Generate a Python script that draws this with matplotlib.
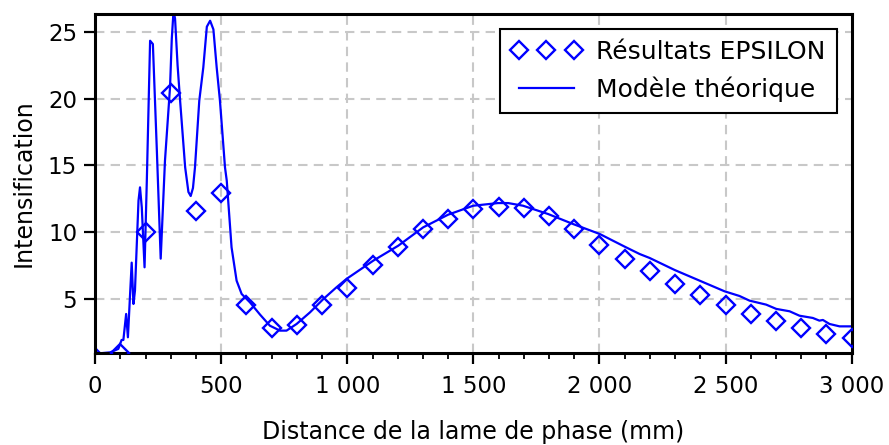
import numpy as np
import matplotlib
matplotlib.use('Agg')
import matplotlib.pyplot as plt
from matplotlib.ticker import MultipleLocator, FuncFormatter

# points EPSILON (tous les 100 mm)
x_exp = [100, 200, 300, 400, 500, 600, 700, 800, 900, 1000,
         1100, 1200, 1300, 1400, 1500, 1600, 1700, 1800, 1900, 2000,
         2100, 2200, 2300, 2400, 2500, 2600, 2700, 2800, 2900, 3000]
y_exp = [0.95, 10.0, 20.45, 11.6, 12.95, 4.55, 2.8, 3.05, 4.55, 5.8,
         7.5, 8.9, 10.25, 10.95, 11.7, 11.9, 11.8, 11.2, 10.2, 9.05,
         8.0, 7.05, 6.1, 5.25, 4.55, 3.85, 3.3, 2.8, 2.35, 2.05]

# modele theorique
x_th = [0, 20, 60, 92, 105, 112, 123, 130, 145, 152, 158, 172, 178, 185, 196,
        205, 218, 229, 245, 260, 277, 297, 304, 311, 317, 327, 337, 357, 370,
        379, 388, 396, 413, 429, 443, 456, 469, 482, 495, 515, 522, 541, 561,
        581, 614, 654, 693, 733, 759, 799, 852, 905, 957, 997, 1103, 1202,
        1301, 1400, 1499, 1598, 1638, 1697, 1796, 1895, 2001, 2053, 2100,
        2159, 2199, 2298, 2397, 2496, 2555, 2595, 2661, 2701, 2754, 2793,
        2846, 2872, 2886, 2912, 2952, 3000]
y_th = [1.3, 0.9, 0.97, 1.23, 1.9, 1.9, 3.85, 2.1, 7.7, 4.6, 5.6, 12.35, 13.35,
        11.85, 7.35, 13.85, 24.35, 24.1, 16.0, 8.0, 15.35, 20.85, 24.5, 26.6,
        26.0, 22.5, 19.85, 14.85, 13.0, 12.7, 13.3, 14.85, 19.85, 22.35, 25.4,
        25.85, 25.2, 22.35, 19.85, 14.85, 13.85, 8.85, 6.35, 5.35, 4.72, 3.8,
        2.97, 2.6, 2.6, 3.1, 3.97, 4.97, 5.85, 6.48, 7.85, 8.97, 10.35, 11.3,
        11.97, 12.17, 12.17, 11.97, 11.35, 10.6, 9.85, 9.35, 8.9, 8.35, 8.05,
        7.15, 6.35, 5.55, 5.2, 4.85, 4.55, 4.23, 4.05, 3.72, 3.55, 3.35, 3.4,
        3.1, 2.92, 2.92]

plt.rcParams['font.family'] = ['DejaVu Sans']
blue = '#0000ff'

fig = plt.figure(figsize=(8.89, 4.45), dpi=100)
ax = fig.add_axes([0.107, 0.207, 0.851, 0.762])

ax.plot(x_exp, y_exp, linestyle='none', marker='D', markersize=9.5,
        markerfacecolor='none', markeredgecolor=blue, markeredgewidth=1.7,
        label='Résultats EPSILON', zorder=3)
ax.plot(x_th, y_th, color=blue, linewidth=1.6, label='Modèle théorique', zorder=2)

ax.set_xlim(0, 3000)
ax.set_ylim(0.93, 26.37)
ax.xaxis.set_major_locator(MultipleLocator(500))
ax.xaxis.set_minor_locator(MultipleLocator(100))
ax.yaxis.set_major_locator(MultipleLocator(5))
ax.xaxis.set_major_formatter(FuncFormatter(lambda v, p: f'{int(v):,}'.replace(',', ' ')))

ax.grid(True, which='major', color='#c8c8c8', linewidth=1.5, linestyle=(0, (4.5, 3)))
ax.set_axisbelow(True)

for s in ax.spines.values():
    s.set_linewidth(2.2)
    s.set_color('black')
ax.tick_params(axis='both', which='major', direction='out', length=8, width=1.6,
               labelsize=16.5, colors='black', pad=8)
ax.tick_params(axis='y', which='major', pad=5)
ax.tick_params(axis='x', which='minor', direction='out', length=4.5, width=1.3)

ax.set_xlabel('Distance de la lame de phase (mm)', fontsize=17, labelpad=16)
ax.set_ylabel('Intensification', fontsize=17, labelpad=9)

leg = ax.legend(loc='upper right', numpoints=3, fontsize=18, fancybox=False,
                framealpha=1, edgecolor='black', borderaxespad=0.6,
                handlelength=2.8, handletextpad=0.6, borderpad=0.45,
                labelspacing=0.5)
leg.get_frame().set_linewidth(1.5)

fig.savefig('out.png', dpi=100)
